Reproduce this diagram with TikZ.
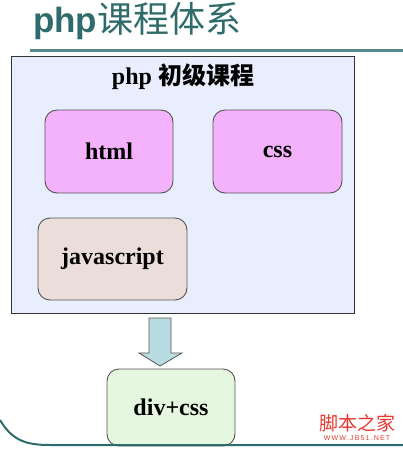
\documentclass[tikz,border=0pt]{standalone}
\usepackage{fontspec}
\setmainfont{Liberation Serif}
\newfontfamily\cjk{Noto Sans CJK SC}
\newfontfamily\titlefont{Liberation Sans}
\usepackage{tikz}
\usetikzlibrary{calc,positioning}
\definecolor{teal1}{HTML}{2F6B6B}
\definecolor{outerfill}{HTML}{E8EEFD}
\definecolor{pinkfill}{HTML}{F4B1FC}
\definecolor{jsfill}{HTML}{EADDDA}
\definecolor{divfill}{HTML}{E5F7DF}
\definecolor{arrowfill}{HTML}{B8DCE2}
\definecolor{edgegray}{HTML}{555555}
\definecolor{wmred}{HTML}{E8392F}
\tikzset{
	x=1pt, y=-1pt,
	course/.style={rectangle, draw=edgegray, line width=0.9pt, rounded corners=12pt,
		font=\fontsize{24}{24}\selectfont\bfseries, inner sep=0pt},
}
\tikzstyle{outerbox} = [rectangle, draw=black!80, line width=0.9pt, fill=outerfill,
	minimum width=343pt, minimum height=257pt, inner sep=0pt]

\begin{document}
\begin{tikzpicture}
	\useasboundingbox (0,0) rectangle (403,450);
	
	% title and rule
	\node[anchor=base west, text=teal1, inner sep=0pt] (title) at (33,32)
		{{\titlefont\fontsize{35}{35}\selectfont\bfseries php}{\cjk\fontsize{36}{36}\selectfont\mdseries 课程体系}};
	\coordinate (rulel) at (30,50);
	\coordinate (ruler) at (403,50);
	\draw[teal1!80, line width=3pt] (rulel) -- (ruler);
	
	\node[outerbox] (outer) at (182.5,184.5) {};
	\node[font=\fontsize{24}{24}\selectfont\bfseries] (head) at (183,77) {php {\cjk 初级课程}};
	
	\node[course, fill=pinkfill, minimum width=128pt, minimum height=83pt] (html) at (109,151.5) {html};
	\node[course, fill=pinkfill, minimum width=129pt, minimum height=83pt] (css) at (277.5,151.5) {css};
	\node[course, fill=jsfill, minimum width=149pt, minimum height=82pt] (js) at (112.5,259) {javascript};
	\node[course, fill=divfill, minimum width=128pt, minimum height=77pt] (div) at (171,407.5) {div+css};
	
	% block arrow
	\coordinate (atop) at (160,318);
	\coordinate (atip) at (160,366);
	\draw[edgegray, line width=0.8pt, fill=arrowfill, line join=miter]
		($(atop)+(-11,0)$) -- ($(atop)+(11,0)$) -- ($(atip)+(11,-13)$) -- ($(atip)+(22,-13)$)
		-- (atip) -- ($(atip)+(-21,-13)$) -- ($(atip)+(-11,-13)$) -- cycle;
	
	% bottom rule
	\coordinate (cl) at (0,420);
	\coordinate (cr) at (403,445);
	\draw[teal1, line width=2pt] (cl) .. controls (12,440) and (25,445) .. (50,445) -- (cr);
	
	\node[text=wmred, inner sep=0pt] (wm) at (357,423) {\cjk\fontsize{19}{19}\selectfont 脚本之家};
	\node[text=wmred, inner sep=0pt, below=3pt of wm] (wmurl) {\titlefont\fontsize{7}{7}\selectfont W\,W\,W\,.\,J\,B\,5\,1\,.\,N\,E\,T};
\end{tikzpicture}
\end{document}
